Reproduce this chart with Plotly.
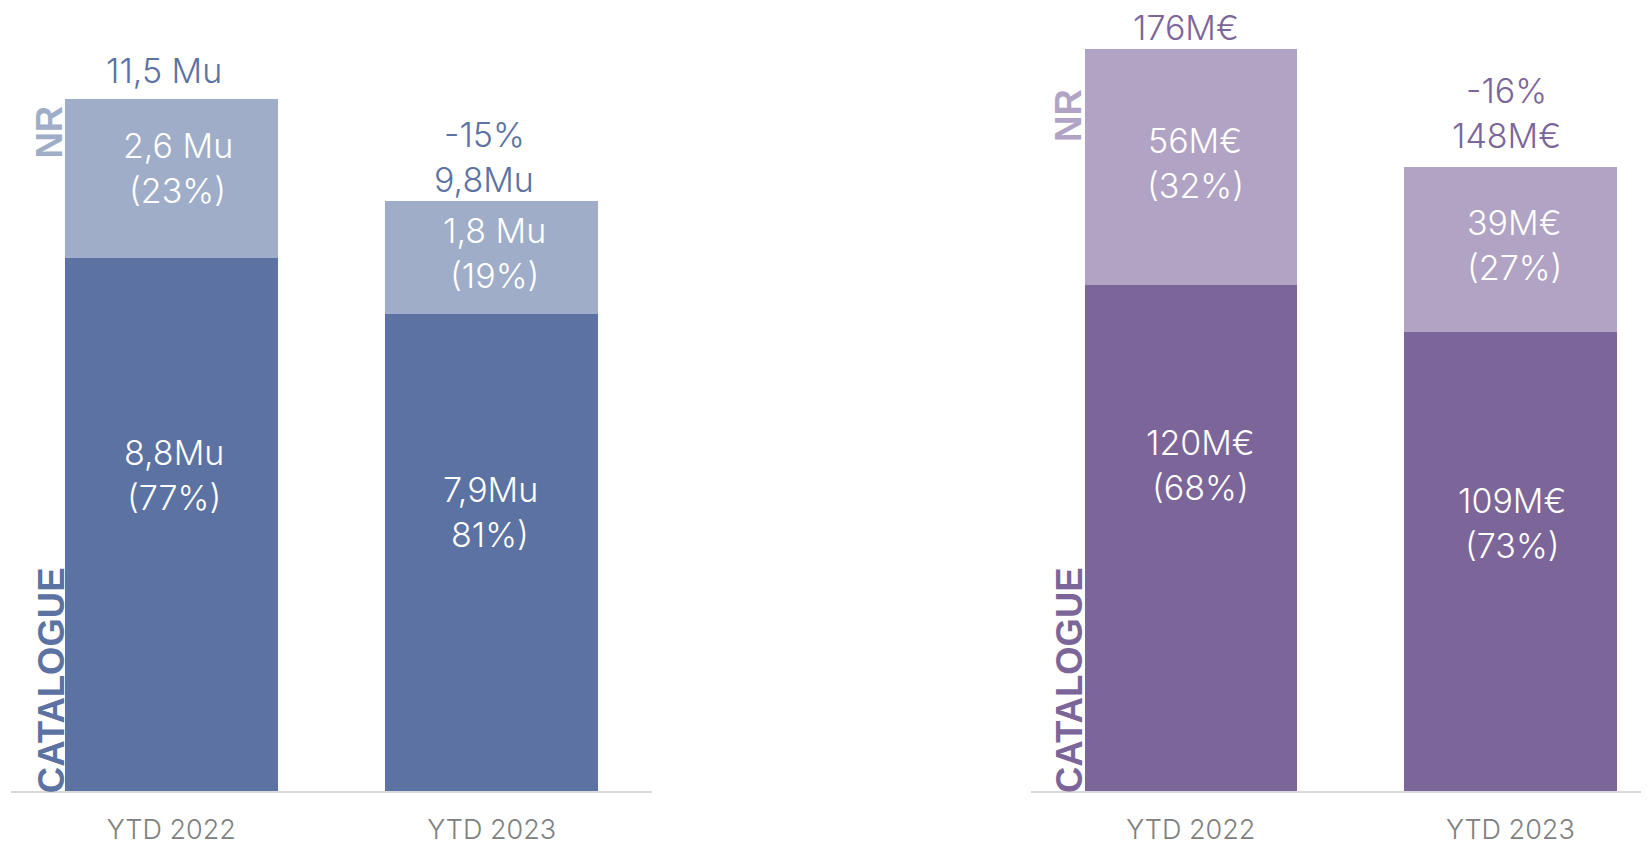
import plotly.graph_objects as go

# ---------------- data ----------------
categories = ["YTD 2022", "YTD 2023"]

vol_catalogue = [8.86, 7.93]
vol_nr = [2.64, 1.87]
vol_total_text = ["11,5 Mu", "-15%<br>9,8Mu"]
vol_nr_text = ["2,6 Mu<br>(23%)", "1,8 Mu<br>(19%)"]
vol_cat_text = ["8,8Mu<br>(77%)", "7,9Mu<br>81%)"]

rev_catalogue = [120, 109]
rev_nr = [56, 39]
rev_total_text = ["176M€", "-16%<br>148M€"]
rev_nr_text = ["56M€<br>(32%)", "39M€<br>(27%)"]
rev_cat_text = ["120M€<br>(68%)", "109M€<br>(73%)"]

# ---------------- styles ----------------
FONT = "Inter, Liberation Sans, Arial, sans-serif"
BOLD_FONT = "Liberation Sans, Arial, sans-serif"
BLUE_DARK, BLUE_LIGHT = "#5B72A2", "#9FADC8"
PURP_DARK, PURP_LIGHT = "#7C6699", "#B1A3C4"
LABEL_SIZE = 34
LINE_GAP = 45
BARGAP = 0.335
BAR_W = 1 - BARGAP

fig = go.Figure()

for xa, ya, cat, nr, dark, light in [
    ("x", "y", vol_catalogue, vol_nr, BLUE_DARK, BLUE_LIGHT),
    ("x2", "y2", rev_catalogue, rev_nr, PURP_DARK, PURP_LIGHT),
]:
    fig.add_trace(go.Bar(x=categories, y=cat, marker=dict(color=dark, line=dict(width=0)),
                         xaxis=xa, yaxis=ya, showlegend=False, hoverinfo="skip"))
    fig.add_trace(go.Bar(x=categories, y=nr, marker=dict(color=light, line=dict(width=0)),
                         xaxis=xa, yaxis=ya, showlegend=False, hoverinfo="skip"))

annotations = []


def label(xref, yref, x, y, text, color, xshift, yshift, size=LABEL_SIZE):
    lines = text.split("<br>")
    n = len(lines)
    for k, line in enumerate(lines):
        dy = ((n - 1) / 2 - k) * LINE_GAP
        annotations.append(dict(
            xref=xref, yref=yref, x=x, y=y, text=line, showarrow=False,
            xanchor="center", yanchor="middle", xshift=xshift, yshift=yshift + dy,
            borderpad=0,
            font=dict(family=FONT, size=size, color=color, weight=300), align="center"))


# pixel offsets of the label blocks relative to the segment tops
vol_offsets = {
    "total": [(-7.5, 28.4), (-7.5, 44.5)],
    "nr": [(6.5, -69.6), (2.5, -52)],
    "cat": [(3, -216.8), (-1.5, -198.6)],
}
rev_offsets = {
    "total": [(-4.5, 21.5), (-4, 54)],
    "nr": [(4.5, -114), (4, -78)],
    "cat": [(9.5, -180), (2, -191)],
}

for xref, yref, cat, nr, tt, nt, ct, off, color in [
    ("x", "y", vol_catalogue, vol_nr, vol_total_text, vol_nr_text, vol_cat_text, vol_offsets, BLUE_DARK),
    ("x2", "y2", rev_catalogue, rev_nr, rev_total_text, rev_nr_text, rev_cat_text, rev_offsets, PURP_DARK),
]:
    for i, c in enumerate(categories):
        total = cat[i] + nr[i]
        label(xref, yref, i, total, tt[i], color, *off["total"][i])
        label(xref, yref, i, total, nt[i], "white", *off["nr"][i])
        label(xref, yref, i, cat[i], ct[i], "white", *off["cat"][i])

# rotated segment names
for xref, yref, cat, nr, dark, light, cat_dx, nr_dx, nr_shift in [
    ("x", "y", vol_catalogue, vol_nr, BLUE_DARK, BLUE_LIGHT, 9, 7, -5),
    ("x2", "y2", rev_catalogue, rev_nr, PURP_DARK, PURP_LIGHT, 7, 7, -38),
]:
    annotations.append(dict(
        xref=xref, yref=yref, x=-BAR_W / 2, y=0, text="<b>CATALOGUE</b>", textangle=-90,
        showarrow=False, xanchor="right", yanchor="bottom", xshift=cat_dx, yshift=-4,
        font=dict(family=BOLD_FONT, size=36.5, color=dark)))
    annotations.append(dict(
        xref=xref, yref=yref, x=-BAR_W / 2, y=cat[0] + nr[0], text="<b>NR</b>", textangle=-90,
        showarrow=False, xanchor="right", yanchor="top", xshift=nr_dx, yshift=nr_shift,
        font=dict(family=BOLD_FONT, size=36.5, color=light)))

W, H = 1649, 845
axis_common = dict(
    showline=True, linecolor="#D9D9D9", linewidth=2, ticks="", showgrid=False,
    zeroline=False, tickfont=dict(family=FONT, size=27, color="#808080", weight=300),
    ticklabelstandoff=14, fixedrange=True,
)
yaxis_common = dict(visible=False, showgrid=False, zeroline=False, fixedrange=True)

fig.update_layout(
    width=W, height=H,
    margin=dict(l=0, r=0, t=0, b=62),
    paper_bgcolor="white", plot_bgcolor="white",
    barmode="stack", bargap=BARGAP,
    xaxis=dict(domain=[3 / W, 644 / W], range=[-0.5, 1.5], anchor="y", **axis_common),
    yaxis=dict(domain=[0, 1], range=[0, 13.01], anchor="x", **yaxis_common),
    xaxis2=dict(domain=[1023 / W, 1], range=[-0.5, 1.459], anchor="y2", **axis_common),
    yaxis2=dict(domain=[0, 1], range=[0, 185.83], anchor="x2", **yaxis_common),
    annotations=annotations,
    showlegend=False,
)

fig.write_html("out.html")
